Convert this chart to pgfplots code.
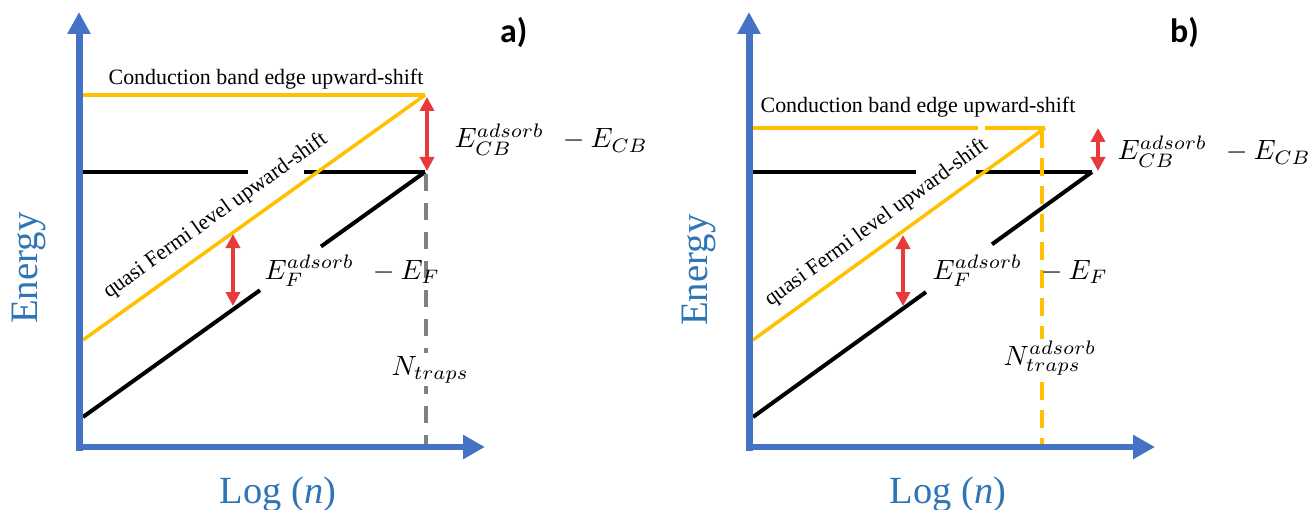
\documentclass[border=0pt]{standalone}
\usepackage{pgfplots}
\pgfplotsset{compat=1.18}
\usetikzlibrary{arrows.meta}
\usepackage{fontspec}
\setmainfont{Liberation Serif}
\newfontfamily\calib{Carlito}
\definecolor{axblue}{RGB}{68,114,196}
\definecolor{txtblue}{RGB}{46,117,182}
\definecolor{gold}{RGB}{255,192,0}
\definecolor{myred}{RGB}{232,58,58}
\definecolor{mygray}{RGB}{128,128,128}
\begin{document}
\begin{tikzpicture}
\begin{axis}[width=1311bp,height=510bp,scale only axis,
  xmin=0,xmax=1311,ymin=0,ymax=510,y dir=reverse,hide axis,clip=false]
\addplot[draw=none] coordinates {(0,0) (1311,510)};
% ---------------- panel a ----------------
% black lines
\addplot[black, line width=4bp] coordinates {(83,172) (248,172)};
\addplot[black, line width=4bp] coordinates {(304,172) (425,172)};
\addplot[black, line width=4bp] coordinates {(83,417) (260,290.2)};
\addplot[black, line width=4bp] coordinates {(321,246.5) (425,172)};
% orange lines
\addplot[gold, line width=3.5bp] coordinates {(83,95) (425,95)};
\addplot[gold, line width=3.5bp] coordinates {(83,340) (425,95)};
% gray dashed
\addplot[mygray, line width=4.5bp, dash pattern=on 17bp off 12bp] coordinates {(426,174) (426,447)};
% red arrows
\addplot[myred, line width=4bp, {Triangle[width=14bp,length=14bp]}-{Triangle[width=14bp,length=14bp]}] coordinates {(427,97) (427,171)};
\addplot[myred, line width=4bp, {Triangle[width=14bp,length=14bp]}-{Triangle[width=14bp,length=14bp]}] coordinates {(233,234) (233,306)};
% axes
\addplot[axblue, line width=7bp, -{Triangle[width=22bp,length=22bp]}] coordinates {(79,450.5) (79,12)};
\addplot[axblue, line width=6.5bp, -{Triangle[width=23bp,length=22bp]}] coordinates {(75.5,447) (485,447)};
% ---------------- panel b ----------------
\addplot[black, line width=4bp] coordinates {(753,172) (916,172)};
\addplot[black, line width=4bp] coordinates {(976,172) (1092,172)};
\addplot[black, line width=4bp] coordinates {(753,417) (926,292)};
\addplot[black, line width=4bp] coordinates {(992,244.3) (1092,172)};
\addplot[gold, line width=3.5bp] coordinates {(753,128) (978,128)};
\addplot[gold, line width=3.5bp] coordinates {(985,128) (1045,128)};
\addplot[gold, line width=3.5bp] coordinates {(753,340) (1045,128)};
\addplot[gold, line width=4bp, dash pattern=on 18bp off 10bp] coordinates {(1042,130) (1042,447)};
\addplot[myred, line width=4bp, {Triangle[width=14bp,length=14bp]}-{Triangle[width=14bp,length=14bp]}] coordinates {(1098,128) (1098,171)};
\addplot[myred, line width=4bp, {Triangle[width=14bp,length=14bp]}-{Triangle[width=14bp,length=14bp]}] coordinates {(903,235) (903,306)};
\addplot[axblue, line width=7bp, -{Triangle[width=22bp,length=22bp]}] coordinates {(749,450.5) (749,12)};
\addplot[axblue, line width=6.5bp, -{Triangle[width=23bp,length=22bp]}] coordinates {(745.5,447) (1155,447)};
% ---------------- texts a ----------------
\node[anchor=base, font=\fontsize{22}{26}\selectfont] at (axis cs:266,85) {Conduction band edge upward-shift};
\node[rotate=35.6, font=\fontsize{22}{26}\selectfont] at (axis cs:215.5,216) {quasi Fermi level upward-shift};
\node[anchor=base west, scale=2.8, inner sep=0pt] at (axis cs:454,148) {$E_{CB}^{adsorb}\;\,-E_{CB}$};
\node[anchor=base west, scale=2.8, inner sep=0pt] at (axis cs:264,279) {$E_{F}^{adsorb}\;\,-E_{F}$};
\node[anchor=base west, scale=2.8, fill=white, inner xsep=0pt, inner ysep=1pt] at (axis cs:391,375) {$N_{traps}$};
\node[rotate=90, text=txtblue, font=\fontsize{39}{44}\selectfont] at (axis cs:29,268) {Energy};
\node[anchor=base, text=txtblue, font=\fontsize{38.6}{44}\selectfont, overlay] at (axis cs:278,503) {Log (\textit{n})};
\node[anchor=base west, inner sep=0pt, font=\calib\bfseries\fontsize{34}{40}\selectfont] at (axis cs:500,43) {a)};
% ---------------- texts b ----------------
\node[anchor=base, font=\fontsize{22}{26}\selectfont] at (axis cs:918,113) {Conduction band edge upward-shift};
\node[rotate=36, font=\fontsize{22}{26}\selectfont] at (axis cs:876.5,223) {quasi Fermi level upward-shift};
\node[anchor=base west, scale=2.8, inner sep=0pt, overlay] at (axis cs:1117,160) {$E_{CB}^{adsorb}\;\,-E_{CB}$};
\node[anchor=base west, scale=2.8, inner sep=0pt] at (axis cs:932,279) {$E_{F}^{adsorb}\;\,-E_{F}$};
\node[anchor=base west, scale=2.8, fill=white, inner xsep=0pt, inner ysep=1pt] at (axis cs:1003,365) {$N_{traps}^{adsorb}$};
\node[rotate=90, text=txtblue, font=\fontsize{39}{44}\selectfont] at (axis cs:699,270) {Energy};
\node[anchor=base, text=txtblue, font=\fontsize{38.6}{44}\selectfont, overlay] at (axis cs:948,503) {Log (\textit{n})};
\node[anchor=base west, inner sep=0pt, font=\calib\bfseries\fontsize{34}{40}\selectfont] at (axis cs:1170,43) {b)};
\end{axis}
\end{tikzpicture}
\end{document}
